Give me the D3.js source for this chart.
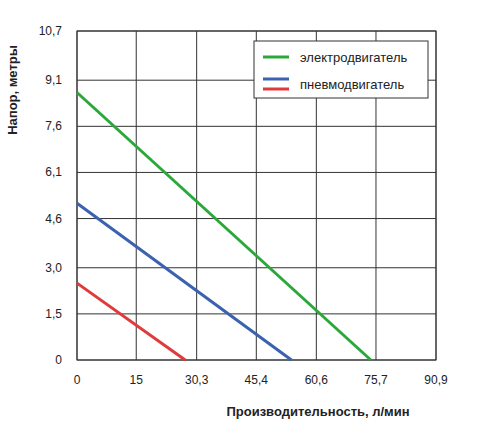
<!DOCTYPE html>
<html><head><meta charset="utf-8">
<script src="https://cdn.jsdelivr.net/npm/d3@7"></script>
<style>body{margin:0;background:#fff}</style></head>
<body><svg id="c" width="478" height="448"></svg>
<script>
const xTicks=[0,15,30.3,45.4,60.6,75.7,90.9];
const xLabels=["0","15","30,3","45,4","60,6","75,7","90,9"];
const yTicks=[0,1.5,3.0,4.6,6.1,7.6,9.1,10.7];
const yLabels=["0","1,5","3,0","4,6","6,1","7,6","9,1","10,7"];
const seriesNames=["электродвигатель","пневмодвигатель",""];
const seriesColors=["#2aa83a","#3a62b0","#e03a3a"];
const startHead=[8.7,5.1,2.5];
const zeroFlow=[74.4,54.3,27.4];
const svg=d3.select("#c");
const x=d3.scaleLinear().domain([0,90.9]).range([77,436]);
const y=d3.scaleLinear().domain([0,10.7]).range([360,31]);
const g=svg.append("g");
xTicks.forEach(t=>g.append("line").attr("x1",x(t)).attr("x2",x(t)).attr("y1",y(0)).attr("y2",y(10.7)).attr("stroke","#333").attr("stroke-width",1));
yTicks.forEach(t=>g.append("line").attr("x1",x(0)).attr("x2",x(90.9)).attr("y1",y(t)).attr("y2",y(t)).attr("stroke","#333").attr("stroke-width",1));
g.append("rect").attr("x",x(0)).attr("y",y(10.7)).attr("width",x(90.9)-x(0)).attr("height",y(0)-y(10.7)).attr("fill","none").attr("stroke","#333");
const ff="Arial, Liberation Sans, sans-serif";
xTicks.forEach((t,i)=>svg.append("text").attr("x",x(t)).attr("y",384).attr("text-anchor","middle").attr("font-family",ff).attr("font-size",12).attr("fill","#222").text(xLabels[i]));
yTicks.forEach((t,i)=>svg.append("text").attr("x",62).attr("y",y(t)+4).attr("text-anchor","end").attr("font-family",ff).attr("font-size",12).attr("fill","#222").text(yLabels[i]));
const line=d3.line().x(d=>x(d[0])).y(d=>y(d[1]));
startHead.forEach((h,i)=>svg.append("path").attr("d",line([[0,h],[zeroFlow[i],0]])).attr("stroke",seriesColors[i]).attr("stroke-width",3).attr("fill","none"));
svg.append("rect").attr("x",254).attr("y",41).attr("width",174).attr("height",57).attr("fill","#fff").attr("stroke","#333");
const ly=[57,79,89];
[0,1,2].forEach(i=>{
 svg.append("line").attr("x1",263).attr("x2",289).attr("y1",ly[i]).attr("y2",ly[i]).attr("stroke",seriesColors[i]).attr("stroke-width",3);});
svg.append("text").attr("x",300).attr("y",62).attr("font-family",ff).attr("font-size",13).attr("fill","#222").text(seriesNames[0]);
svg.append("text").attr("x",300).attr("y",89).attr("font-family",ff).attr("font-size",13).attr("fill","#222").text(seriesNames[1]);
svg.append("text").attr("x",318).attr("y",416).attr("text-anchor","middle").attr("font-family",ff).attr("font-size",13).attr("font-weight","bold").attr("fill","#222").text("Производительность, л/мин");
svg.append("text").attr("transform","translate(17,90) rotate(-90)").attr("text-anchor","middle").attr("font-family",ff).attr("font-size",13).attr("font-weight","bold").attr("fill","#222").text("Напор, метры");
</script></body></html>
